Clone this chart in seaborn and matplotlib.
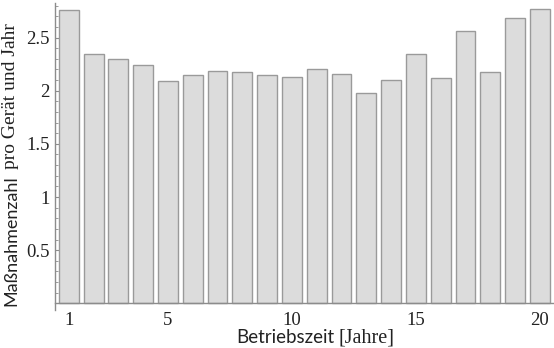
import matplotlib
matplotlib.use("Agg")
import matplotlib.pyplot as plt
import seaborn as sns
import pandas as pd
from matplotlib.ticker import MultipleLocator, FixedLocator

# data
years = list(range(1, 21))
values = [2.757, 2.346, 2.300, 2.242, 2.090, 2.145, 2.189, 2.176, 2.145, 2.132,
          2.205, 2.160, 1.975, 2.100, 2.346, 2.116, 2.557, 2.176, 2.686, 2.770]
xtick_years = [1, 5, 10, 15, 20]
ytick_vals = [0.5, 1, 1.5, 2, 2.5]
ytick_labels = ["0.5", "1", "1.5", "2", "2.5"]

sns.set_style("white")
W, H = 554, 348
fig = plt.figure(figsize=(W / 100, H / 100), dpi=100)
left, right, top, bottom = 55, 553, 3, 310
ax = fig.add_axes([left / W, 1 - bottom / H, (right - left) / W, (bottom - top) / H])

df = pd.DataFrame({"year": years, "value": values})
sns.barplot(data=df, x="year", y="value", order=years, color="#dcdcdc",
            edgecolor="#9a9a9a", linewidth=1.0, width=0.8, saturation=1, ax=ax)

px_per_unit = 106.3
ymin = -(bottom - 303.3) / px_per_unit
ymax = (303.3 - top) / px_per_unit
ax.set_ylim(ymin, ymax)
ax.set_xlim(-0.557, 19.53)

for s in ["top", "right"]:
    ax.spines[s].set_visible(False)
ax.spines["bottom"].set_position(("data", 0))
for s in ["bottom", "left"]:
    ax.spines[s].set_color("#8c8c8c")
    ax.spines[s].set_linewidth(1.0)

serif = "Liberation Serif"
ax.set_xticks([years.index(y) for y in xtick_years])
ax.set_xticklabels([str(y) for y in xtick_years], fontfamily=serif, fontsize=13.5,
                   color="#222222")
ax.tick_params(axis="x", length=0, pad=6)

ax.yaxis.set_major_locator(FixedLocator(ytick_vals))
ax.set_yticklabels(ytick_labels, fontfamily=serif, fontsize=13.5, color="#222222")
ax.yaxis.set_minor_locator(MultipleLocator(0.1))
ax.tick_params(axis="y", which="major", direction="in", length=4, width=0.8,
               color="#8c8c8c", pad=4, left=True)
ax.tick_params(axis="y", which="minor", direction="in", length=2, width=0.6,
               color="#8c8c8c", left=True)
ax.set_xlabel("")
ax.set_ylabel("")

sans = "Lato"
fig.text(236 / W, 1 - 343 / H, "Betriebszeit", family=sans, fontsize=13.5,
         ha="left", va="baseline", color="#222222")
fig.text(338 / W, 1 - 343 / H, "[Jahre]", family=serif, fontsize=14.5,
         ha="left", va="baseline", color="#222222")
t1 = fig.text(11 / W, 1 - 306 / H, "Maßnahmenzahl", family=sans, fontsize=13,
              rotation=90, ha="center", va="bottom", color="#222222")
fig.canvas.draw()
bb = t1.get_window_extent()
t2 = fig.text(11 / W, (bb.y1 + 6) / H, "pro Gerät und Jahr", family=serif,
              fontsize=14, rotation=90, ha="center", va="bottom", color="#222222")

fig.savefig("out.png", dpi=100)
